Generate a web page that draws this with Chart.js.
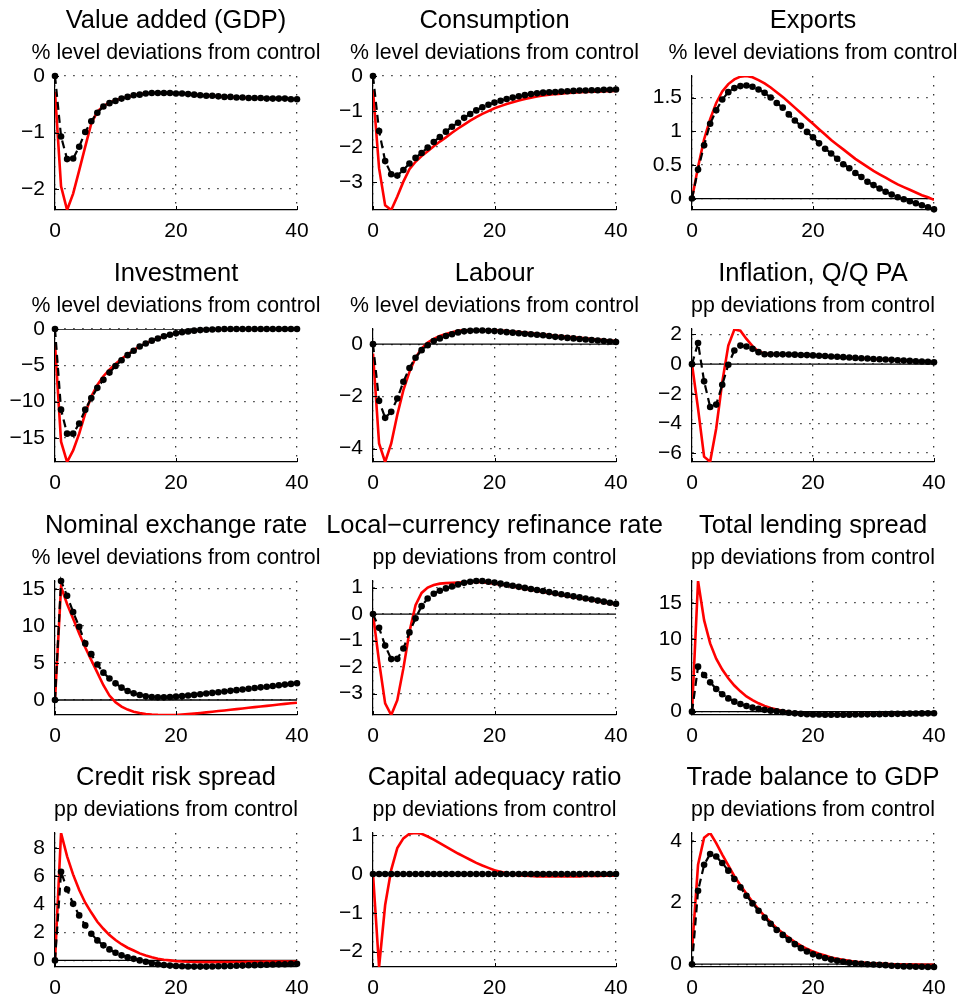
<!DOCTYPE html>
<html>
<head>
<meta charset="utf-8">
<script src="https://cdn.jsdelivr.net/npm/chart.js@4.4.0/dist/chart.umd.min.js"></script>
<style>
  html, body { margin: 0; padding: 0; background: #ffffff; overflow: hidden; width: 963px; height: 1001px; }
  canvas { position: absolute; }
</style>
</head>
<body>
<script>
// Horizon (quarters after the shock)
const quarters = [0,1,2,3,4,5,6,7,8,9,10,11,12,13,14,15,16,17,18,19,20,21,22,23,24,25,26,27,28,29,30,31,32,33,34,35,36,37,38,39,40];
const xTicks = [0, 20, 40];

// Value added (GDP)
const gdpLine = [-0.28,-1.95,-2.37,-2.08,-1.67,-1.25,-0.84,-0.63,-0.53,-0.47,-0.43,-0.40,-0.37,-0.34,-0.32,-0.31,-0.30,-0.30,-0.30,-0.30,-0.31,-0.31,-0.32,-0.33,-0.34,-0.35,-0.35,-0.36,-0.37,-0.37,-0.38,-0.38,-0.39,-0.39,-0.39,-0.40,-0.40,-0.40,-0.40,-0.41,-0.41];
const gdpDots = [0,-1.07,-1.47,-1.46,-1.25,-0.99,-0.80,-0.65,-0.54,-0.48,-0.44,-0.40,-0.37,-0.34,-0.33,-0.31,-0.30,-0.30,-0.30,-0.30,-0.31,-0.31,-0.32,-0.33,-0.34,-0.35,-0.35,-0.36,-0.37,-0.37,-0.38,-0.38,-0.39,-0.39,-0.39,-0.40,-0.40,-0.40,-0.40,-0.41,-0.41];
const gdpRange = [-2.37, 0];
const gdpTicks = [-2, -1, 0];

// Consumption
const consLine = [-0.40,-2.60,-3.65,-3.78,-3.40,-2.98,-2.63,-2.42,-2.26,-2.12,-1.98,-1.85,-1.73,-1.60,-1.48,-1.37,-1.26,-1.16,-1.07,-0.99,-0.91,-0.85,-0.79,-0.74,-0.69,-0.65,-0.61,-0.58,-0.55,-0.53,-0.51,-0.50,-0.48,-0.47,-0.46,-0.45,-0.44,-0.44,-0.43,-0.43,-0.42];
const consDots = [0,-1.55,-2.40,-2.77,-2.81,-2.65,-2.47,-2.31,-2.17,-2.02,-1.86,-1.72,-1.57,-1.43,-1.32,-1.18,-1.07,-0.97,-0.88,-0.81,-0.75,-0.70,-0.65,-0.61,-0.57,-0.54,-0.51,-0.49,-0.47,-0.46,-0.45,-0.44,-0.43,-0.42,-0.41,-0.41,-0.40,-0.40,-0.39,-0.39,-0.38];
const consRange = [-3.78, 0];
const consTicks = [-3, -2, -1, 0];

// Exports
const expLine = [0,0.47,0.88,1.18,1.42,1.59,1.70,1.77,1.81,1.82,1.80,1.76,1.71,1.65,1.58,1.51,1.43,1.35,1.27,1.19,1.11,1.03,0.95,0.87,0.80,0.73,0.66,0.59,0.53,0.47,0.41,0.36,0.31,0.26,0.21,0.17,0.13,0.09,0.05,0.02,-0.02];
const expDots = [0,0.43,0.79,1.11,1.31,1.47,1.58,1.64,1.67,1.68,1.66,1.62,1.57,1.50,1.42,1.35,1.25,1.16,1.08,0.99,0.91,0.82,0.74,0.67,0.59,0.51,0.45,0.38,0.32,0.25,0.20,0.15,0.10,0.06,0.02,-0.01,-0.04,-0.07,-0.10,-0.13,-0.16];
const expRange = [-0.17, 1.82];
const expTicks = [0, 0.5, 1, 1.5];

// Investment
const invLine = [-2.1,-15.5,-18.3,-16.7,-14.4,-11.6,-9.3,-7.7,-6.5,-5.6,-4.8,-4.1,-3.5,-2.9,-2.4,-2.0,-1.6,-1.3,-1.0,-0.8,-0.6,-0.45,-0.33,-0.23,-0.15,-0.10,-0.06,-0.03,-0.01,0,0.01,0.01,0.01,0.01,0.01,0,0,0,0,0,0];
const invDots = [0,-11.1,-14.4,-14.4,-13.0,-11.1,-9.5,-8.1,-7.0,-6.0,-5.1,-4.3,-3.6,-3.0,-2.4,-2.0,-1.6,-1.3,-1.0,-0.8,-0.6,-0.45,-0.33,-0.23,-0.15,-0.10,-0.06,-0.03,-0.01,0,0.01,0.01,0.01,0.01,0.01,0,0,0,0,0,0];
const invRange = [-18.3, 0];
const invTicks = [-15, -10, -5, 0];

// Labour
const labLine = [-0.36,-3.80,-4.51,-3.80,-2.70,-1.76,-1.06,-0.52,-0.17,0.06,0.20,0.31,0.39,0.46,0.51,0.54,0.56,0.57,0.57,0.56,0.54,0.52,0.50,0.48,0.46,0.44,0.42,0.40,0.37,0.35,0.32,0.30,0.28,0.26,0.24,0.22,0.20,0.18,0.16,0.14,0.12];
const labDots = [0,-2.17,-2.82,-2.59,-2.08,-1.44,-0.91,-0.52,-0.23,-0.04,0.12,0.22,0.31,0.38,0.45,0.49,0.51,0.52,0.52,0.51,0.50,0.48,0.46,0.44,0.42,0.40,0.38,0.36,0.34,0.31,0.28,0.26,0.24,0.22,0.20,0.18,0.16,0.14,0.12,0.10,0.08];
const labRange = [-4.51, 0.58];
const labTicks = [-4, -2, 0];

// Inflation, Q/Q PA
const infLine = [0,-3.0,-6.24,-6.58,-4.34,-1.21,1.25,2.33,2.26,1.70,1.21,0.85,0.72,0.69,0.67,0.66,0.65,0.64,0.62,0.61,0.59,0.57,0.55,0.52,0.50,0.47,0.45,0.42,0.40,0.38,0.35,0.33,0.31,0.29,0.26,0.24,0.22,0.20,0.18,0.16,0.13];
const infDots = [0,1.43,-1.16,-2.89,-2.73,-1.39,-0.04,0.92,1.25,1.19,1.03,0.81,0.67,0.66,0.66,0.66,0.65,0.64,0.62,0.61,0.59,0.57,0.55,0.52,0.50,0.47,0.45,0.42,0.40,0.38,0.35,0.33,0.31,0.29,0.26,0.24,0.22,0.20,0.18,0.16,0.13];
const infRange = [-6.6, 2.37];
const infTicks = [-6, -4, -2, 0, 2];

// Nominal exchange rate
const nerLine = [0,15.3,13.0,11.0,9.0,7.1,5.4,3.7,2.0,0.6,-0.3,-0.9,-1.3,-1.58,-1.77,-1.9,-1.97,-2.01,-2.03,-2.03,-2.02,-1.97,-1.91,-1.84,-1.76,-1.68,-1.59,-1.50,-1.41,-1.32,-1.23,-1.14,-1.05,-0.96,-0.87,-0.79,-0.70,-0.61,-0.53,-0.45,-0.37];
const nerDots = [0,16.1,14.1,11.9,9.9,7.66,6.2,4.8,3.7,2.9,2.25,1.67,1.22,0.9,0.68,0.5,0.4,0.36,0.36,0.4,0.45,0.52,0.60,0.69,0.78,0.87,0.96,1.05,1.14,1.24,1.33,1.43,1.52,1.62,1.71,1.80,1.90,1.99,2.08,2.18,2.27];
const nerRange = [-2.03, 16.1];
const nerTicks = [0, 5, 10, 15];

// Local-currency refinance rate
const refLine = [0,-1.8,-3.37,-3.81,-3.25,-2.05,-0.67,0.34,0.80,1.00,1.10,1.15,1.17,1.18,1.19,1.20,1.21,1.21,1.20,1.18,1.15,1.12,1.08,1.04,1.00,0.96,0.92,0.88,0.84,0.80,0.76,0.72,0.68,0.64,0.60,0.56,0.52,0.48,0.44,0.40,0.36];
const refDots = [0,-0.52,-1.19,-1.70,-1.69,-1.30,-0.69,-0.16,0.30,0.59,0.77,0.88,0.97,1.04,1.12,1.18,1.22,1.25,1.25,1.22,1.19,1.15,1.11,1.07,1.03,0.99,0.95,0.91,0.87,0.83,0.79,0.75,0.71,0.67,0.63,0.59,0.55,0.51,0.47,0.43,0.39];
const refRange = [-3.81, 1.25];
const refTicks = [-3, -2, -1, 0, 1];

// Total lending spread
const tlsLine = [0,18.0,12.6,9.4,7.3,5.8,4.6,3.6,2.8,2.1,1.6,1.15,0.8,0.5,0.28,0.1,-0.04,-0.14,-0.22,-0.28,-0.32,-0.35,-0.37,-0.38,-0.38,-0.38,-0.37,-0.36,-0.35,-0.34,-0.33,-0.31,-0.30,-0.29,-0.27,-0.26,-0.25,-0.24,-0.23,-0.22,-0.21];
const tlsDots = [0,6.2,5.05,4.04,3.12,2.39,1.83,1.38,1.06,0.78,0.55,0.38,0.25,0.14,0.05,-0.05,-0.15,-0.23,-0.30,-0.35,-0.38,-0.40,-0.41,-0.42,-0.42,-0.42,-0.41,-0.40,-0.39,-0.37,-0.36,-0.34,-0.33,-0.31,-0.30,-0.28,-0.27,-0.25,-0.24,-0.23,-0.22];
const tlsRange = [-0.46, 18.0];
const tlsTicks = [0, 5, 10, 15];

// Credit risk spread
const crsLine = [0,9.06,7.4,6.1,5.0,4.1,3.4,2.75,2.25,1.8,1.45,1.15,0.9,0.7,0.5,0.35,0.22,0.12,0.05,0,-0.05,-0.08,-0.10,-0.11,-0.12,-0.12,-0.12,-0.12,-0.12,-0.11,-0.11,-0.11,-0.10,-0.10,-0.10,-0.09,-0.09,-0.09,-0.08,-0.08,-0.08];
const crsDots = [0,6.3,5.04,4.02,3.2,2.49,1.9,1.42,1.07,0.78,0.54,0.36,0.22,0.11,0,-0.1,-0.2,-0.27,-0.33,-0.37,-0.40,-0.42,-0.43,-0.44,-0.44,-0.44,-0.43,-0.42,-0.41,-0.40,-0.38,-0.37,-0.35,-0.34,-0.32,-0.31,-0.29,-0.28,-0.27,-0.25,-0.24];
const crsRange = [-0.47, 9.06];
const crsTicks = [0, 2, 4, 6, 8];

// Capital adequacy ratio
const carLine = [0,-2.4,-0.8,0.11,0.67,0.92,1.04,1.06,1.04,0.97,0.89,0.80,0.71,0.62,0.53,0.45,0.37,0.29,0.22,0.16,0.10,0.06,0.02,-0.01,-0.03,-0.04,-0.05,-0.06,-0.06,-0.06,-0.06,-0.06,-0.06,-0.06,-0.06,-0.05,-0.05,-0.05,-0.04,-0.04,-0.04];
const carDots = [0,0,0,0,0,0,0,0,0,0,0,0,0,0,0,0,0,0,0,0,0,0,0,0,0,0,0,0,0,0,0,0,0,0,0,0,0,0,0,0,0];
const carRange = [-2.4, 1.06];
const carTicks = [-2, -1, 0, 1];

// Trade balance to GDP
const tbLine = [0.45,3.22,4.1,4.25,3.92,3.55,3.2,2.85,2.56,2.28,2.02,1.78,1.56,1.36,1.17,1.0,0.86,0.72,0.6,0.5,0.41,0.34,0.28,0.22,0.18,0.14,0.11,0.08,0.06,0.04,0.03,0.02,0.01,0,0,-0.01,-0.01,-0.01,-0.02,-0.02,-0.02];
const tbDots = [0,2.38,3.22,3.57,3.49,3.28,3.03,2.76,2.49,2.22,1.97,1.73,1.51,1.31,1.11,0.95,0.79,0.65,0.52,0.41,0.32,0.26,0.20,0.15,0.11,0.08,0.05,0.03,0.01,0,-0.01,-0.02,-0.03,-0.05,-0.06,-0.07,-0.07,-0.08,-0.08,-0.09,-0.09];
const tbRange = [-0.09, 4.25];
const tbTicks = [0, 2, 4];

const LEVEL = '% level deviations from control';
const PP = 'pp deviations from control';

const panels = [
  { title: 'Value added (GDP)', sub: LEVEL, line: gdpLine, dots: gdpDots, range: gdpRange, ticks: gdpTicks, zero: false },
  { title: 'Consumption', sub: LEVEL, line: consLine, dots: consDots, range: consRange, ticks: consTicks, zero: false },
  { title: 'Exports', sub: LEVEL, line: expLine, dots: expDots, range: expRange, ticks: expTicks, zero: true },
  { title: 'Investment', sub: LEVEL, line: invLine, dots: invDots, range: invRange, ticks: invTicks, zero: true },
  { title: 'Labour', sub: LEVEL, line: labLine, dots: labDots, range: labRange, ticks: labTicks, zero: true },
  { title: 'Inflation, Q/Q PA', sub: PP, line: infLine, dots: infDots, range: infRange, ticks: infTicks, zero: true },
  { title: 'Nominal exchange rate', sub: LEVEL, line: nerLine, dots: nerDots, range: nerRange, ticks: nerTicks, zero: true },
  { title: 'Local\u2212currency refinance rate', sub: PP, line: refLine, dots: refDots, range: refRange, ticks: refTicks, zero: true },
  { title: 'Total lending spread', sub: PP, line: tlsLine, dots: tlsDots, range: tlsRange, ticks: tlsTicks, zero: true },
  { title: 'Credit risk spread', sub: PP, line: crsLine, dots: crsDots, range: crsRange, ticks: crsTicks, zero: true },
  { title: 'Capital adequacy ratio', sub: PP, line: carLine, dots: carDots, range: carRange, ticks: carTicks, zero: true },
  { title: 'Trade balance to GDP', sub: PP, line: tbLine, dots: tbDots, range: tbRange, ticks: tbTicks, zero: true }
];

// Grid geometry: plot-area edges per column / row, and canvas spans per column
const colPlot = [[55, 297], [373, 616], [692, 934]];
const rowPlot = [[76, 210], [329, 462], [581, 715], [833, 967]];
const colCanvas = [[0, 360], [300, 690], [620, 963]];
const PAGE_H = 1001;
const TOP_SPACE = 76;
const X_AXIS_H = 30;

const FONT = '"Liberation Sans", Arial, Helvetica, sans-serif';
Chart.defaults.font.family = FONT;
Chart.defaults.color = '#000';

const fmtTick = v => String(v).replace('-', '\u2212');

// Titles centred over the plot area, plus inward tick marks on both axes
const panelDecor = {
  id: 'panelDecor',
  afterDraw(chart, args, opts) {
    const { ctx, chartArea: a } = chart;
    const cx = (a.left + a.right) / 2;
    ctx.save();
    ctx.fillStyle = '#000';
    ctx.textAlign = 'center';
    ctx.textBaseline = 'middle';
    ctx.font = '25.5px ' + FONT;
    ctx.fillText(opts.title, cx, a.top - 55);
    ctx.font = '21.3px ' + FONT;
    ctx.fillText(opts.sub, cx, a.top - 23);

    const xs = chart.scales.x, ys = chart.scales.y;
    ctx.strokeStyle = '#000';
    ctx.lineWidth = 1;
    ctx.beginPath();
    xs.ticks.forEach(t => {
      const px = Math.round(xs.getPixelForValue(t.value)) + 0.5;
      ctx.moveTo(px, a.bottom);
      ctx.lineTo(px, a.bottom - 4);
    });
    ys.ticks.forEach(t => {
      const py = Math.round(ys.getPixelForValue(t.value)) + 0.5;
      ctx.moveTo(a.left, py);
      ctx.lineTo(a.left + 4, py);
    });
    ctx.stroke();
    ctx.restore();
  }
};

const gridStyle = { color: 'rgba(0,0,0,0.8)', lineWidth: 1.3, drawTicks: false };
const borderStyle = { display: true, color: '#000', width: 1.2, dash: [1.5, 7.5] };

panels.forEach((p, i) => {
  const r = Math.floor(i / 3), c = i % 3;
  const [pl, pr] = colPlot[c];
  const [pt, pb] = rowPlot[r];
  const [cl, cr] = colCanvas[c];
  const ct = pt - TOP_SPACE;
  const cw = cr - cl;
  const ch = Math.min(250, PAGE_H - ct);

  const cv = document.createElement('canvas');
  cv.width = cw; cv.height = ch;
  cv.style.left = cl + 'px'; cv.style.top = ct + 'px';
  cv.style.width = cw + 'px'; cv.style.height = ch + 'px';
  document.body.appendChild(cv);

  const toPts = arr => arr.map((v, k) => ({ x: quarters[k], y: v }));

  const datasets = [
    {
      data: toPts(p.dots),
      borderColor: '#000', borderWidth: 2.2, borderDash: [8, 5],
      pointRadius: 3.3, pointBackgroundColor: '#000', pointBorderWidth: 0,
      tension: 0, order: 1, clip: false
    },
    {
      data: toPts(p.line),
      borderColor: '#ff0000', borderWidth: 2.6,
      pointRadius: 0, tension: 0, order: 2
    }
  ];
  if (p.zero) {
    datasets.push({
      data: [{ x: quarters[0], y: 0 }, { x: quarters[quarters.length - 1], y: 0 }],
      borderColor: '#000', borderWidth: 1.3, pointRadius: 0, order: 3
    });
  }

  new Chart(cv, {
    type: 'line',
    data: { datasets },
    options: {
      responsive: false,
      maintainAspectRatio: false,
      animation: false,
      devicePixelRatio: 1,
      events: [],
      layout: {
        padding: {
          left: 0,
          top: TOP_SPACE,
          right: cr - pr,
          bottom: ch - (pb - ct) - X_AXIS_H
        }
      },
      plugins: {
        legend: { display: false },
        tooltip: { enabled: false },
        panelDecor: { title: p.title, sub: p.sub }
      },
      scales: {
        x: {
          type: 'linear',
          min: quarters[0],
          max: quarters[quarters.length - 1],
          afterBuildTicks: s => { s.ticks = xTicks.map(v => ({ value: v })); },
          afterFit: s => { s.height = X_AXIS_H; },
          grid: gridStyle,
          border: borderStyle,
          ticks: { font: { size: 21 }, padding: 9, maxRotation: 0, autoSkip: false, callback: v => fmtTick(v) }
        },
        y: {
          type: 'linear',
          min: p.range[0],
          max: p.range[1],
          afterBuildTicks: s => { s.ticks = p.ticks.map(v => ({ value: v })); },
          afterFit: s => { s.width = pl - cl; },
          grid: gridStyle,
          border: borderStyle,
          ticks: { font: { size: 21 }, padding: 10, autoSkip: false, callback: v => fmtTick(v) }
        }
      }
    },
    plugins: [panelDecor]
  });
});
</script>
</body>
</html>
